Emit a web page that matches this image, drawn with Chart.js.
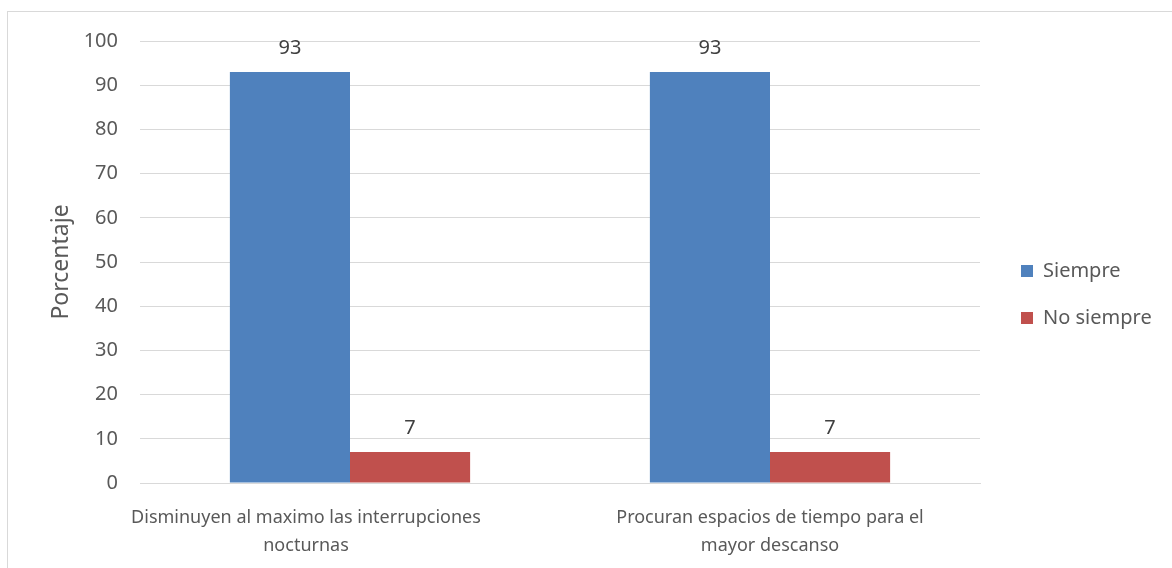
<!DOCTYPE html>
<html>
<head>
<meta charset="utf-8">
<script src="https://cdn.jsdelivr.net/npm/chart.js@4"></script>
<style>
html,body{margin:0;padding:0;background:#fff;}
#wrap{position:relative;width:1172px;height:568px;}
</style>
</head>
<body>
<div id="wrap"><canvas id="c" width="1172" height="568"></canvas></div>
<script>
const categories = [
  ["Disminuyen al maximo las interrupciones", "nocturnas"],
  ["Procuran espacios de tiempo para el", "mayor descanso"]
];
const seriesNames = ["Siempre", "No siempre"];
const siempre = [93, 93];
const noSiempre = [7, 7];
const yTicks = [0, 10, 20, 30, 40, 50, 60, 70, 80, 90, 100];

const FONT = "'Noto Sans', sans-serif";
const TXT = "#595959";

const borderPlugin = {
  id: 'frame',
  beforeDraw(chart) {
    const ctx = chart.ctx;
    ctx.save();
    ctx.fillStyle = '#fff';
    ctx.fillRect(0, 0, chart.width, chart.height);
    ctx.strokeStyle = '#d9d9d9';
    ctx.lineWidth = 1;
    ctx.strokeRect(7.5, 11.5, 1300, 700);
    ctx.restore();
  }
};

const legendFix = {
  id: 'legendFix',
  beforeUpdate(chart) {
    const lg = chart.legend;
    if (lg && !lg._patched) {
      const orig = lg.fit.bind(lg);
      lg.fit = function () { orig(); this.width = 192; };
      lg._patched = true;
    }
  },
  afterLayout(chart) {
    const lg = chart.legend;
    if (lg) { lg.left += 14; lg.right += 14; lg.top -= 10; lg.bottom -= 10; }
  }
};

// first category label sits a little left of its category centre in the reference
const labelShift = {
  id: 'labelShift',
  beforeDraw(chart) {
    const sx = chart.scales.x;
    const items = sx.getLabelItems(chart.chartArea);
    if (items && !items._shifted && items[0]) {
      items[0].options.translation[0] -= 44;
      items._shifted = true;
    }
  }
};

const valueLabels = {
  id: 'valueLabels',
  afterDatasetsDraw(chart) {
    const ctx = chart.ctx;
    ctx.save();
    ctx.font = "20px " + FONT;
    ctx.fillStyle = "#404040";
    ctx.textAlign = 'center';
    ctx.textBaseline = 'middle';
    chart.data.datasets.forEach((ds, di) => {
      chart.getDatasetMeta(di).data.forEach((el, i) => {
        ctx.fillText(String(ds.data[i]), el.x, el.y - 24);
      });
    });
    ctx.restore();
  }
};

new Chart(document.getElementById('c'), {
  type: 'bar',
  data: {
    labels: categories,
    datasets: [
      { label: seriesNames[0], data: siempre, backgroundColor: '#4f81bd' },
      { label: seriesNames[1], data: noSiempre, backgroundColor: '#c0504d' }
    ]
  },
  options: {
    responsive: false,
    animation: false,
    layout: { padding: { left: 0, right: 0, top: 41, bottom: 0 } },
    datasets: { bar: { categoryPercentage: 0.572, barPercentage: 1.0 } },
    plugins: {
      legend: {
        position: 'right',
        align: 'center',
        labels: {
          boxWidth: 12, boxHeight: 12, padding: 27,
          color: TXT, font: { family: FONT, size: 20 }
        }
      },
      tooltip: { enabled: false }
    },
    scales: {
      x: {
        grid: { display: false, drawTicks: false },
        border: { display: true, color: '#d9d9d9', width: 1 },
        ticks: {
          color: TXT, font: { family: FONT, size: 18, lineHeight: 1.55 },
          padding: 21, maxRotation: 0, autoSkip: false
        },
        afterFit(s) { s.height = 85; }
      },
      y: {
        min: 0, max: 100,
        afterBuildTicks(s) { s.ticks = yTicks.map(v => ({ value: v })); },
        grid: { color: '#d9d9d9', lineWidth: 1, drawTicks: false },
        border: { display: false },
        ticks: { color: TXT, font: { family: FONT, size: 20 }, padding: 22 },
        title: {
          display: true, text: 'Porcentaje', color: TXT,
          font: { family: FONT, size: 23 }, padding: { top: 48, bottom: 0 }
        },
        afterFit(s) { s.width = 140; }
      }
    }
  },
  plugins: [borderPlugin, legendFix, labelShift, valueLabels]
});
</script>
</body>
</html>
